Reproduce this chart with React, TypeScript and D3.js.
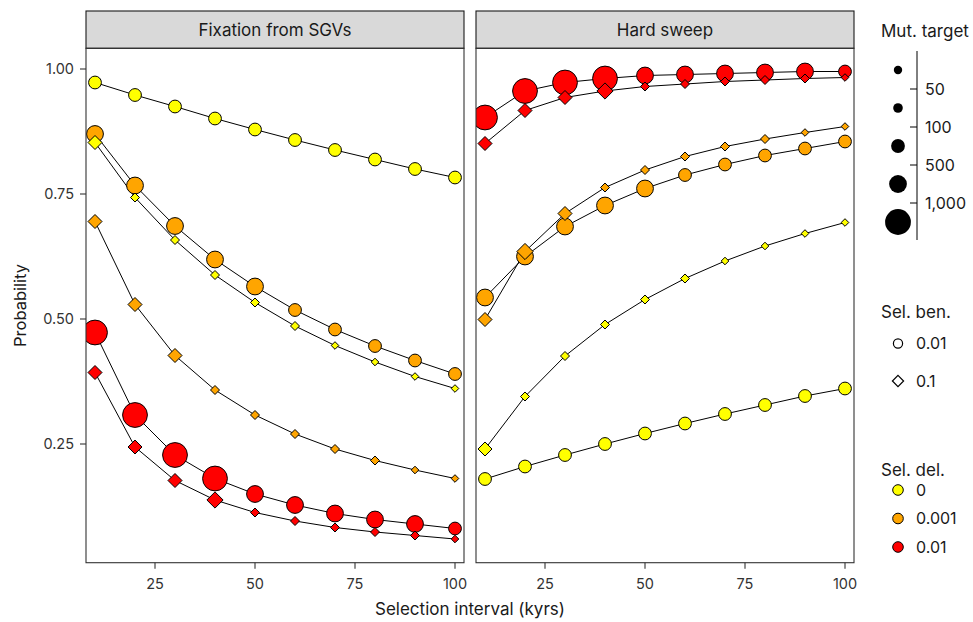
import React from 'react';
import * as d3 from 'd3';

const intervals = [10, 20, 30, 40, 50, 60, 70, 80, 90, 100];

// Fixation from SGVs
const sgvDel0Ben001 = [0.973, 0.948, 0.925, 0.901, 0.879, 0.858, 0.838, 0.819, 0.8, 0.783];
const sgvDel0001Ben001 = [0.87, 0.767, 0.686, 0.619, 0.565, 0.518, 0.479, 0.446, 0.417, 0.39];
const sgvDel001Ben001 = [0.473, 0.308, 0.228, 0.181, 0.15, 0.128, 0.111, 0.099, 0.09, 0.081];
const sgvDel0Ben01 = [0.853, 0.743, 0.658, 0.588, 0.533, 0.486, 0.447, 0.414, 0.385, 0.361];
const sgvDel0001Ben01 = [0.695, 0.529, 0.427, 0.358, 0.308, 0.27, 0.24, 0.217, 0.198, 0.181];
const sgvDel001Ben01 = [0.393, 0.244, 0.177, 0.138, 0.113, 0.096, 0.083, 0.074, 0.067, 0.06];

// Hard sweep
const hardDel0Ben001 = [0.18, 0.205, 0.228, 0.25, 0.271, 0.291, 0.31, 0.328, 0.346, 0.361];
const hardDel0001Ben001 = [0.543, 0.625, 0.685, 0.727, 0.761, 0.788, 0.809, 0.827, 0.841, 0.855];
const hardDel001Ben001 = [0.903, 0.956, 0.973, 0.981, 0.987, 0.989, 0.991, 0.993, 0.995, 0.995];
const hardDel0Ben01 = [0.24, 0.345, 0.426, 0.489, 0.539, 0.581, 0.616, 0.646, 0.671, 0.693];
const hardDel0001Ben01 = [0.499, 0.635, 0.711, 0.763, 0.798, 0.825, 0.845, 0.86, 0.873, 0.885];
const hardDel001Ben01 = [0.851, 0.917, 0.943, 0.956, 0.965, 0.97, 0.975, 0.978, 0.981, 0.983];

const mutDel0Ben001 = [300, 300, 300, 300, 300, 300, 300, 300, 300, 300];
const mutDel0001Ben001 = [750, 750, 750, 750, 750, 300, 300, 300, 300, 300];
const mutDel001Ben001 = [2000, 2000, 2000, 2000, 750, 750, 750, 750, 750, 300];
const mutDel0Ben01 = [300, 75, 75, 75, 75, 75, 30, 30, 30, 30];
const sgvMutDel0001Ben01 = [300, 300, 300, 75, 75, 75, 75, 75, 30, 30];
const hardMutDel0001Ben01 = [300, 750, 300, 75, 75, 75, 75, 75, 30, 30];
const mutDel001Ben01 = [300, 300, 300, 750, 75, 75, 75, 75, 75, 30];

const panelTitles = ['Fixation from SGVs', 'Hard sweep'];
const xTicks = [25, 50, 75, 100];
const yTicks = [0.25, 0.5, 0.75, 1.0];
const sizeBreaks = [50, 100, 500, 1000];
const sizeLabels = ['50', '100', '500', '1,000'];
const sizeLegendValues = [30, 75, 300, 750, 2000];
const selBenLevels = ['0.01', '0.1'];
const selDelLevels = ['0', '0.001', '0.01'];
const selDelColors = ['#FFFF00', '#FFA500', '#FF0000'];

type Series = { panel: number; del: string; ben: string; values: number[]; mut: number[] };

const series: Series[] = [
  { panel: 0, del: '0', ben: '0.01', values: sgvDel0Ben001, mut: mutDel0Ben001 },
  { panel: 0, del: '0.001', ben: '0.01', values: sgvDel0001Ben001, mut: mutDel0001Ben001 },
  { panel: 0, del: '0.01', ben: '0.01', values: sgvDel001Ben001, mut: mutDel001Ben001 },
  { panel: 0, del: '0', ben: '0.1', values: sgvDel0Ben01, mut: mutDel0Ben01 },
  { panel: 0, del: '0.001', ben: '0.1', values: sgvDel0001Ben01, mut: sgvMutDel0001Ben01 },
  { panel: 0, del: '0.01', ben: '0.1', values: sgvDel001Ben01, mut: mutDel001Ben01 },
  { panel: 1, del: '0', ben: '0.01', values: hardDel0Ben001, mut: mutDel0Ben001 },
  { panel: 1, del: '0.001', ben: '0.01', values: hardDel0001Ben001, mut: mutDel0001Ben001 },
  { panel: 1, del: '0.01', ben: '0.01', values: hardDel001Ben001, mut: mutDel001Ben001 },
  { panel: 1, del: '0', ben: '0.1', values: hardDel0Ben01, mut: mutDel0Ben01 },
  { panel: 1, del: '0.001', ben: '0.1', values: hardDel0001Ben01, mut: hardMutDel0001Ben01 },
  { panel: 1, del: '0.01', ben: '0.1', values: hardDel001Ben01, mut: mutDel001Ben01 },
];

const W = 973;
const H = 622;
const FONT = 'Inter, Roboto, sans-serif';
const panels = [
  { x0: 86, x1: 464 },
  { x0: 476, x1: 854 },
];
const stripTop = 11;
const panelTop = 48.3;
const panelBottom = 562.7;

const color = d3.scaleOrdinal<string, string>().domain(selDelLevels).range(selDelColors);
const circleR = d3.scaleThreshold<number, number>().domain(sizeBreaks).range([4.2, 4.8, 6.9, 8.9, 12.9]);
const diamondR = d3.scaleThreshold<number, number>().domain(sizeBreaks).range([4.5, 5.2, 7.7, 8.8, 12]);
const yScale = d3.scaleLinear().domain([0.0126, 1.0414]).range([panelBottom, panelTop]);

function diamondPath(cx: number, cy: number, d: number) {
  return `M${cx},${cy - d}L${cx + d},${cy}L${cx},${cy + d}L${cx - d},${cy}Z`;
}

export default function App() {
  const xScales = panels.map((p) => d3.scaleLinear().domain([7.75, 102.25]).range([p.x0, p.x1]));
  const line = (s: Series) =>
    d3
      .line<number>()
      .x((_, i) => xScales[s.panel](intervals[i]))
      .y((v) => yScale(v))(s.values) || '';

  const textColor = '#1a1a1a';
  const tickColor = '#333333';

  return (
    <svg
      width={W}
      height={H}
      style={{ position: 'absolute', left: 0, top: 0, background: '#fff' }}
      fontFamily={FONT}
    >
      <defs>
        {panels.map((p, i) => (
          <clipPath id={`clip${i}`} key={i}>
            <rect x={p.x0} y={panelTop} width={p.x1 - p.x0} height={panelBottom - panelTop} />
          </clipPath>
        ))}
      </defs>
      {panels.map((p, pi) => {
        const xs = xScales[pi];
        const ps = series.filter((s) => s.panel === pi);
        return (
          <g key={pi}>
            <rect
              x={p.x0}
              y={stripTop}
              width={p.x1 - p.x0}
              height={panelTop - stripTop}
              fill="#D9D9D9"
              stroke="#1a1a1a"
              strokeWidth={1.1}
            />
            <text
              x={(p.x0 + p.x1) / 2}
              y={(stripTop + panelTop) / 2}
              dy="0.36em"
              textAnchor="middle"
              fontSize={17}
              fill={textColor}
            >
              {panelTitles[pi]}
            </text>
            <g clipPath={`url(#clip${pi})`}>
              {ps.map((s, si) => (
                <path key={`l${si}`} d={line(s)} fill="none" stroke="#000" strokeWidth={1} />
              ))}
              {ps
                .filter((s) => s.ben === selBenLevels[0])
                .map((s, si) =>
                  s.values.map((v, i) => (
                    <circle
                      key={`c${si}-${i}`}
                      cx={xs(intervals[i])}
                      cy={yScale(v)}
                      r={circleR(s.mut[i]) - 0.5}
                      fill={color(s.del)}
                      stroke="#000"
                      strokeWidth={1}
                    />
                  ))
                )}
              {ps
                .filter((s) => s.ben === selBenLevels[1])
                .map((s, si) =>
                  s.values.map((v, i) => (
                    <path
                      key={`d${si}-${i}`}
                      d={diamondPath(xs(intervals[i]), yScale(v), diamondR(s.mut[i]) - 0.7)}
                      fill={color(s.del)}
                      stroke="#000"
                      strokeWidth={1}
                    />
                  ))
                )}
            </g>
            <rect
              x={p.x0}
              y={panelTop}
              width={p.x1 - p.x0}
              height={panelBottom - panelTop}
              fill="none"
              stroke="#333"
              strokeWidth={1.1}
            />
            {xTicks.map((t) => (
              <g key={t}>
                <line x1={xs(t)} x2={xs(t)} y1={panelBottom} y2={panelBottom + 6} stroke="#333" strokeWidth={1.1} />
                <text x={xs(t)} y={panelBottom + 21} dy="0.36em" textAnchor="middle" fontSize={14.5} fill={tickColor}>
                  {t}
                </text>
              </g>
            ))}
          </g>
        );
      })}
      {yTicks.map((t) => (
        <g key={t}>
          <line x1={panels[0].x0 - 6} x2={panels[0].x0} y1={yScale(t)} y2={yScale(t)} stroke="#333" strokeWidth={1.1} />
          <text x={panels[0].x0 - 12} y={yScale(t)} dy="0.36em" textAnchor="end" fontSize={14.5} fill={tickColor}>
            {d3.format('.2f')(t)}
          </text>
        </g>
      ))}
      <text
        transform={`translate(20,${(panelTop + panelBottom) / 2}) rotate(-90)`}
        textAnchor="middle"
        dy="0.36em"
        fontSize={16.5}
        fill={textColor}
      >
        Probability
      </text>
      <text x={(panels[0].x0 + panels[1].x1) / 2} y={609} dy="0.36em" textAnchor="middle" fontSize={17} fill={textColor}>
        Selection interval (kyrs)
      </text>

      <text x={881} y={31} dy="0.36em" fontSize={17} fill={textColor}>
        Mut. target
      </text>
      <line x1={917} x2={917} y1={51} y2={240} stroke="#000" strokeWidth={1} />
      {sizeLegendValues.map((v, i) => (
        <circle key={`sl${i}`} cx={898} cy={70 + i * 38} r={circleR(v)} fill="#000" />
      ))}
      {sizeLabels.map((lab, i) => (
        <g key={`st${i}`}>
          <line x1={910} x2={917} y1={89 + i * 38} y2={89 + i * 38} stroke="#000" strokeWidth={1} />
          <text x={925} y={89 + i * 38} dy="0.36em" fontSize={16} fill={textColor}>
            {lab}
          </text>
        </g>
      ))}

      <text x={881} y={312} dy="0.36em" fontSize={17} fill={textColor}>
        Sel. ben.
      </text>
      {selBenLevels.map((lab, i) => {
        const cy = 343.5 + i * 37.5;
        return (
          <g key={`sb${i}`}>
            {i === 0 ? (
              <circle cx={898} cy={cy} r={4.6} fill="#fff" stroke="#000" strokeWidth={1.2} />
            ) : (
              <path d={diamondPath(898, cy, 5.6)} fill="#fff" stroke="#000" strokeWidth={1.2} />
            )}
            <text x={916} y={cy} dy="0.36em" fontSize={16} fill={textColor}>
              {lab}
            </text>
          </g>
        );
      })}

      <text x={881} y={470} dy="0.36em" fontSize={17} fill={textColor}>
        Sel. del.
      </text>
      {selDelLevels.map((lab, i) => {
        const cy = 490 + i * 28.5;
        return (
          <g key={`sd${i}`}>
            <circle cx={898} cy={cy} r={5.3} fill={color(lab)} stroke="#000" strokeWidth={1} />
            <text x={916} y={cy} dy="0.36em" fontSize={16} fill={textColor}>
              {lab}
            </text>
          </g>
        );
      })}
    </svg>
  );
}
